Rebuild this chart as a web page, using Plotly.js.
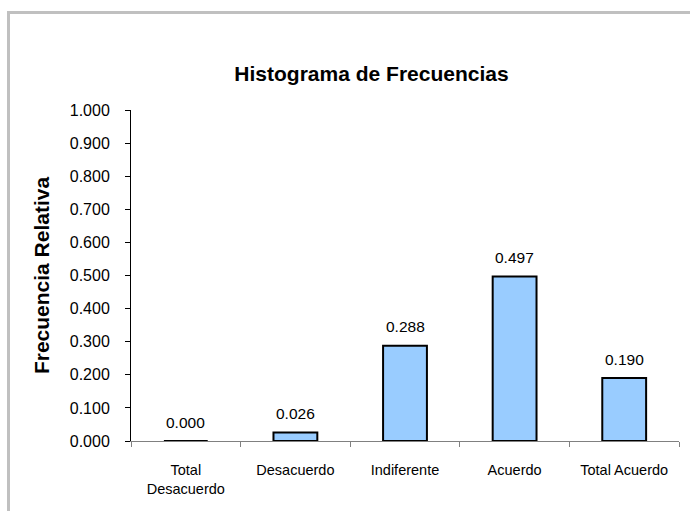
<!DOCTYPE html>
<html>
<head>
<meta charset="utf-8">
<script src="https://cdn.plot.ly/plotly-3.0.1.min.js"></script>
<style>html,body{margin:0;padding:0;background:#fff;}#chart{width:690px;height:511px;}</style>
</head>
<body>
<div id="chart"></div>
<script>
const categories = ["Total<br>Desacuerdo", "Desacuerdo", "Indiferente", "Acuerdo", "Total Acuerdo"];
const frecuenciaRelativa = [0.000, 0.026, 0.288, 0.497, 0.190];
const yTickValues = [0, 0.1, 0.2, 0.3, 0.4, 0.5, 0.6, 0.7, 0.8, 0.9, 1.0];

const font = "Liberation Sans, Arial, sans-serif";

const trace = {
  type: "bar",
  x: categories,
  y: frecuenciaRelativa,
  marker: {color: "#99CCFF", line: {color: "#000000", width: 2}},
  width: 0.4,
  hoverinfo: "skip"
};

const annotations = categories.map((c, i) => ({
  x: c, y: frecuenciaRelativa[i], xref: "x", yref: "y",
  text: frecuenciaRelativa[i].toFixed(3),
  showarrow: false, yanchor: "middle", yshift: 19,
  font: {family: font, size: 15.5, color: "#000"}
}));

const layout = {
  width: 690, height: 511,
  margin: {l: 131, r: 11, t: 110, b: 70},
  paper_bgcolor: "#fff", plot_bgcolor: "#fff",
  showlegend: false,
  title: {
    text: "<b>Histograma de Frecuencias</b>",
    font: {family: font, size: 21, color: "#000"},
    x: 371.5/690, xanchor: "center", xref: "container",
    y: 1 - 74/511, yanchor: "middle", yref: "container"
  },
  xaxis: {
    type: "category",
    showline: true, linecolor: "#808080", linewidth: 1,
    ticks: "outside", tickson: "boundaries", ticklen: 5, tickcolor: "#808080",
    showgrid: false, zeroline: false,
    tickfont: {family: font, size: 14.5, color: "#000"},
    ticklabelstandoff: 16,
    fixedrange: true
  },
  yaxis: {
    range: [0, 1],
    tickvals: yTickValues,
    tickformat: ".3f",
    showline: true, linecolor: "#000", linewidth: 1,
    ticks: "outside", ticklen: 5, tickcolor: "#000",
    showgrid: false, zeroline: false,
    tickfont: {family: font, size: 16, color: "#000"},
    ticklabelstandoff: 12,
    title: {text: "<b>Frecuencia Relativa</b>", font: {family: font, size: 21, color: "#000"}, standoff: 14},
    fixedrange: true
  },
  annotations: annotations,
  shapes: [{
    type: "rect", xref: "paper", yref: "paper",
    x0: (8.5 - 131) / 548, x1: (720 - 131) / 548,
    y0: (441 - 540) / 331, y1: (441 - 12.5) / 331,
    line: {color: "#c0c0c0", width: 3}, fillcolor: "rgba(0,0,0,0)", layer: "below"
  }]
};

Plotly.newPlot("chart", [trace], layout, {displayModeBar: false, staticPlot: true});
</script>
</body>
</html>
